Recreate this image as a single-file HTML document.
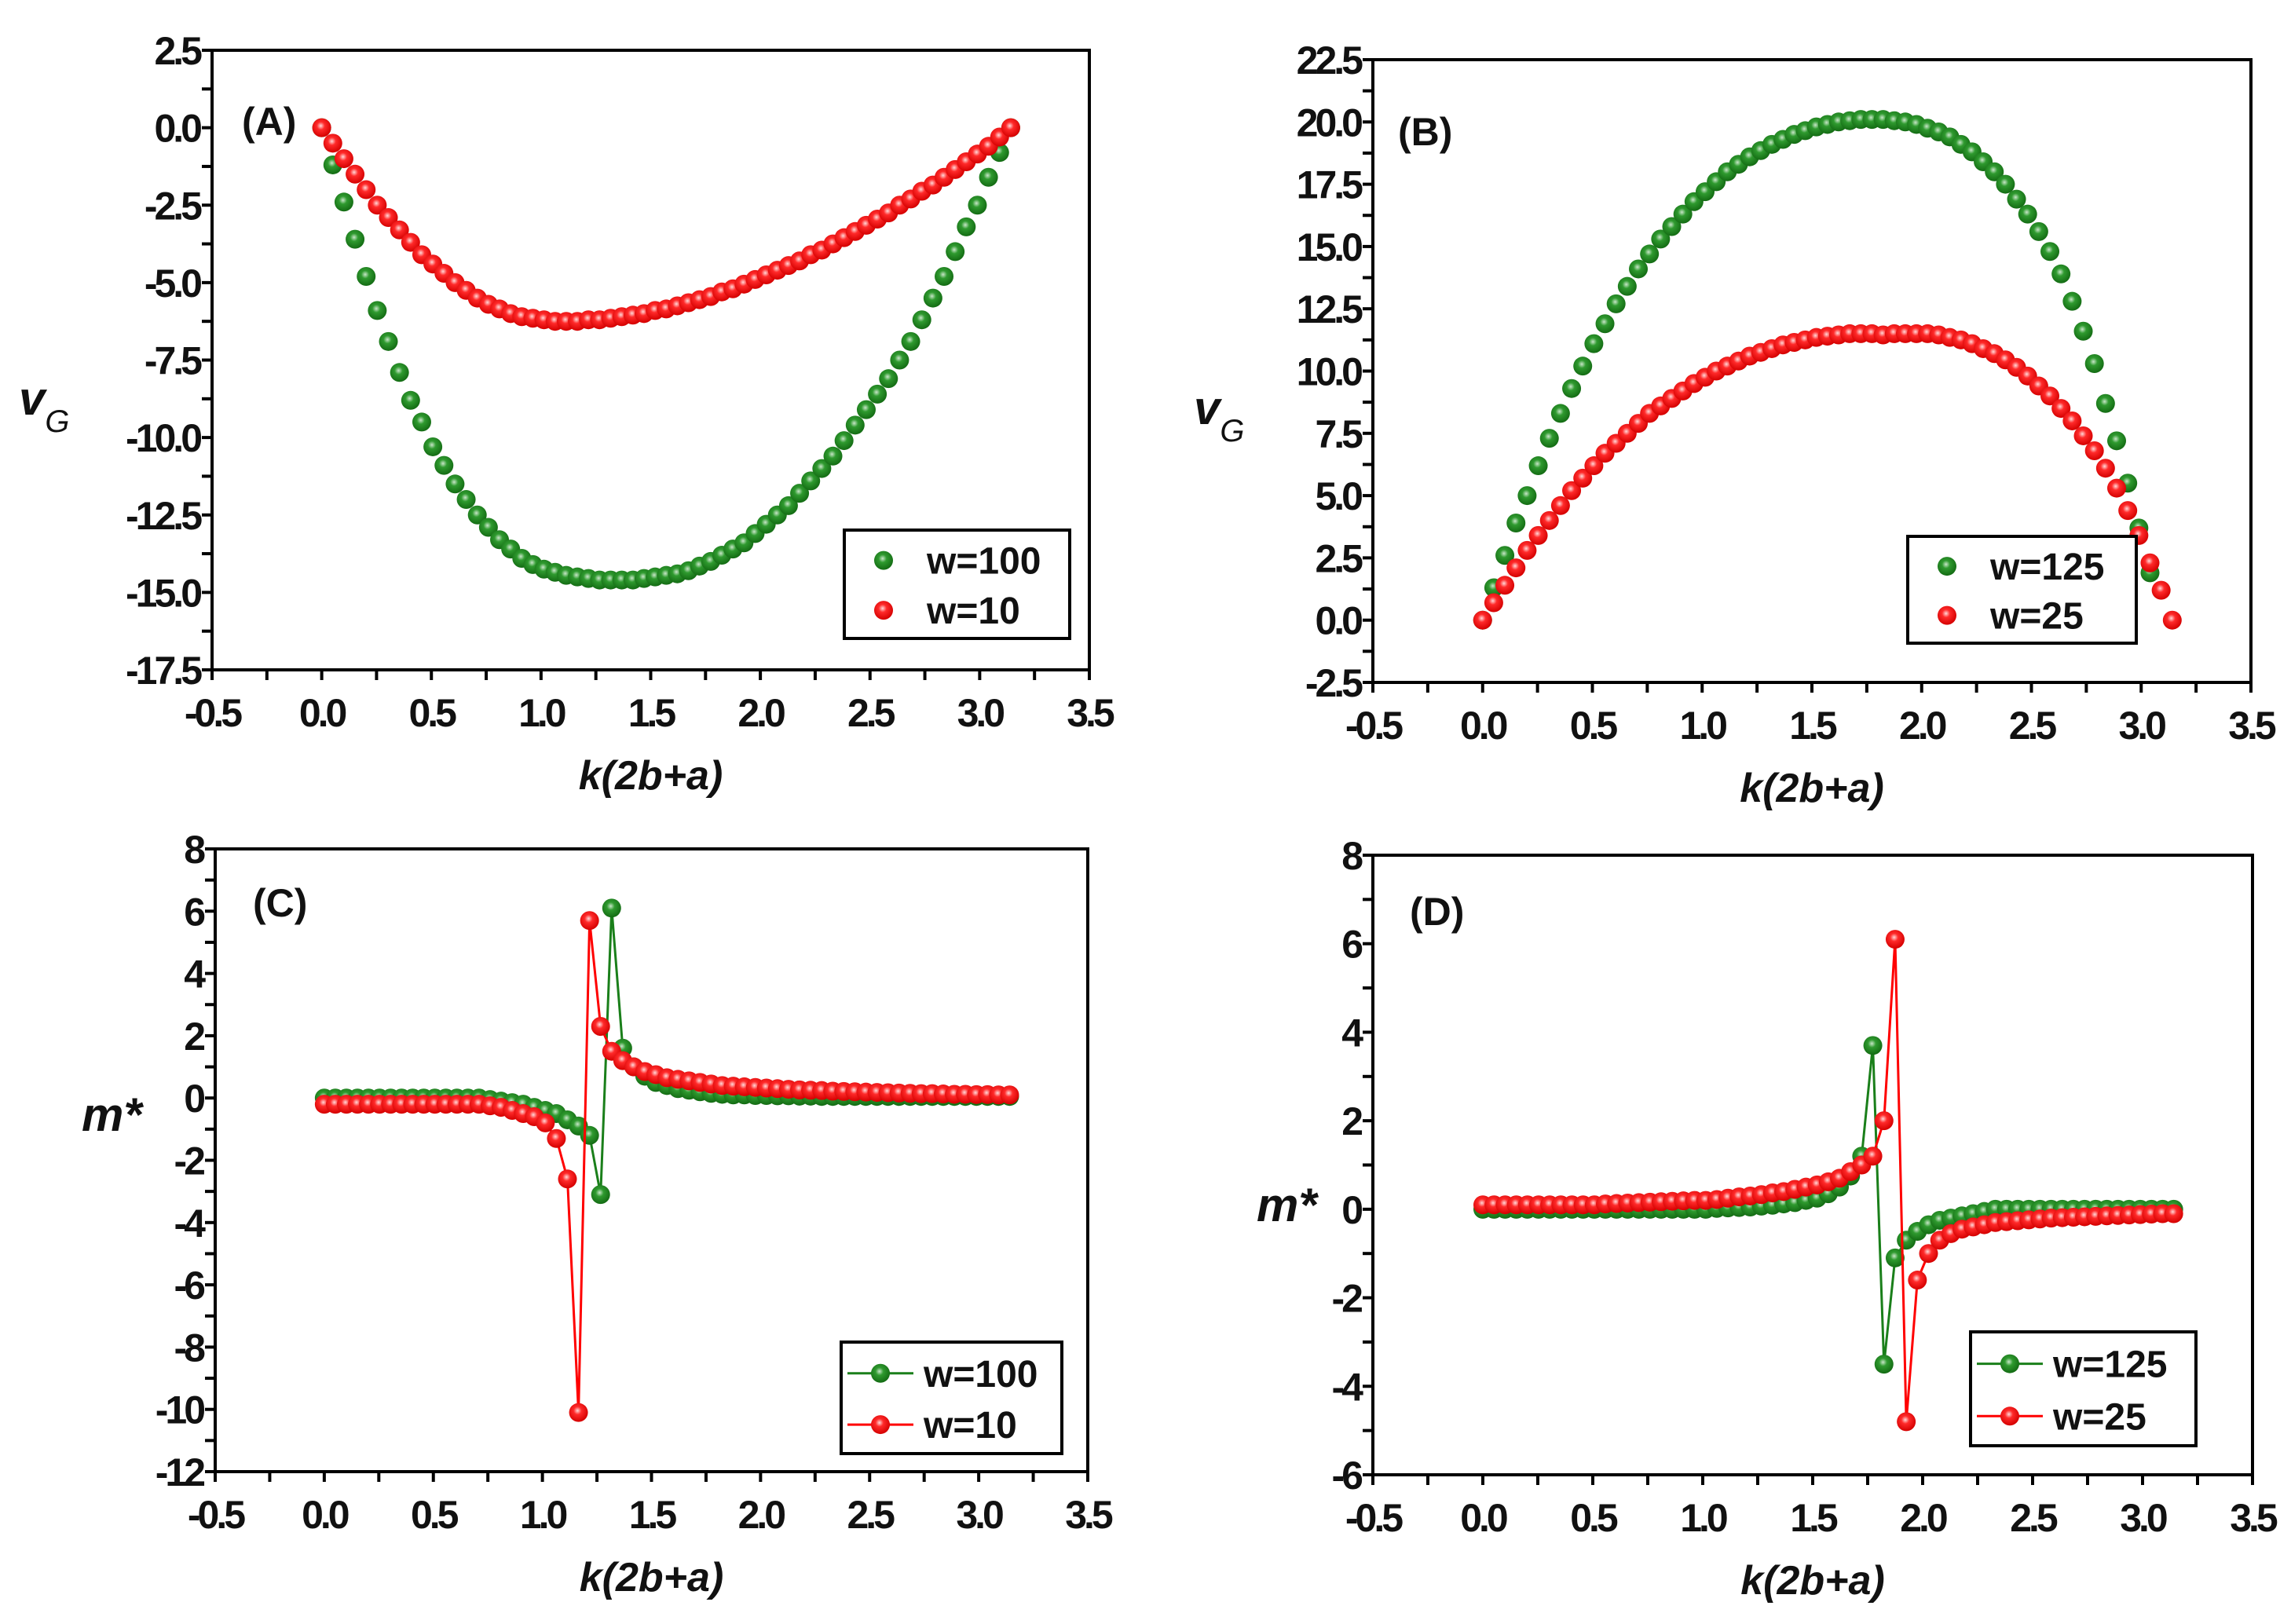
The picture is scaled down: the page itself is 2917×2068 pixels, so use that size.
<!DOCTYPE html>
<html><head><meta charset="utf-8"><style>
html,body{margin:0;padding:0;background:#fff}
svg{display:block}
text{font-family:"Liberation Sans",sans-serif;fill:#111}
</style></head><body>
<svg id="fig" width="2917" height="2068" viewBox="0 0 2917 2068">
<defs>
<radialGradient id="gG" cx="45%" cy="40%" r="60%"><stop offset="0" stop-color="#c9e6c9"/><stop offset="0.35" stop-color="#2f9a2f"/><stop offset="1" stop-color="#136b13"/></radialGradient>
<radialGradient id="gR" cx="45%" cy="40%" r="60%"><stop offset="0" stop-color="#ffd9d9"/><stop offset="0.35" stop-color="#ff2a2a"/><stop offset="1" stop-color="#d40000"/></radialGradient>
</defs>
</svg>
<script>
// shared x step (k grid spacing)
const kStep = Math.PI / 62;
// Panel A: group velocity
const aGreen = [0,-1.2,-2.4,-3.6,-4.8,-5.9,-6.9,-7.9,-8.8,-9.5,-10.3,-10.9,-11.5,-12.0,-12.5,-12.9,-13.3,-13.6,-13.9,-14.1,-14.25,-14.35,-14.45,-14.5,-14.55,-14.6,-14.6,-14.6,-14.6,-14.55,-14.5,-14.45,-14.4,-14.3,-14.15,-14.0,-13.8,-13.6,-13.4,-13.1,-12.8,-12.5,-12.2,-11.8,-11.4,-11.0,-10.6,-10.1,-9.6,-9.1,-8.6,-8.1,-7.5,-6.9,-6.2,-5.5,-4.8,-4.0,-3.2,-2.5,-1.6,-0.8,0];
const aRed = [0,-0.5,-1.0,-1.5,-2.0,-2.5,-2.9,-3.3,-3.7,-4.1,-4.4,-4.7,-5.0,-5.25,-5.5,-5.7,-5.85,-6.0,-6.1,-6.15,-6.2,-6.25,-6.25,-6.25,-6.2,-6.2,-6.15,-6.1,-6.05,-6.0,-5.9,-5.85,-5.75,-5.65,-5.55,-5.45,-5.3,-5.2,-5.05,-4.9,-4.75,-4.6,-4.45,-4.3,-4.1,-3.95,-3.75,-3.55,-3.35,-3.15,-2.95,-2.75,-2.5,-2.3,-2.05,-1.85,-1.6,-1.35,-1.1,-0.85,-0.6,-0.3,0];
// Panel B: group velocity
const bGreen = [0,1.3,2.6,3.9,5.0,6.2,7.3,8.3,9.3,10.2,11.1,11.9,12.7,13.4,14.1,14.7,15.3,15.8,16.3,16.8,17.2,17.6,18.0,18.3,18.6,18.85,19.1,19.3,19.5,19.65,19.8,19.9,20.0,20.05,20.1,20.1,20.1,20.05,20.0,19.9,19.75,19.6,19.4,19.1,18.8,18.4,18.0,17.5,16.9,16.3,15.6,14.8,13.9,12.8,11.6,10.3,8.7,7.2,5.5,3.7,1.9];
const bRed = [0,0.7,1.4,2.1,2.8,3.4,4.0,4.6,5.2,5.7,6.2,6.7,7.1,7.5,7.9,8.3,8.6,8.9,9.2,9.5,9.75,10.0,10.2,10.4,10.6,10.75,10.9,11.05,11.15,11.25,11.35,11.4,11.45,11.5,11.5,11.5,11.45,11.5,11.5,11.5,11.5,11.45,11.35,11.25,11.1,10.9,10.7,10.45,10.15,9.8,9.4,9.0,8.5,8.0,7.4,6.8,6.1,5.3,4.4,3.4,2.3,1.2,0];
// Panel C: effective mass
const cGreen = [0,0,0,0,0,0,0,0,0,0,0,0,0,0,0,-0.05,-0.1,-0.15,-0.2,-0.3,-0.4,-0.5,-0.7,-0.9,-1.2,-3.1,6.1,1.6,1.0,0.7,0.5,0.4,0.3,0.25,0.2,0.15,0.12,0.1,0.1,0.08,0.08,0.07,0.07,0.06,0.06,0.05,0.05,0.05,0.05,0.05,0.05,0.05,0.05,0.05,0.05,0.05,0.05,0.05,0.05,0.05,0.05,0.05,0.05];
const cRed = [-0.2,-0.2,-0.2,-0.2,-0.2,-0.2,-0.2,-0.2,-0.2,-0.2,-0.2,-0.2,-0.2,-0.2,-0.2,-0.25,-0.3,-0.4,-0.5,-0.6,-0.8,-1.3,-2.6,-10.1,5.7,2.3,1.5,1.2,1.0,0.85,0.75,0.65,0.6,0.55,0.5,0.45,0.4,0.38,0.36,0.34,0.32,0.3,0.28,0.26,0.25,0.24,0.22,0.21,0.2,0.19,0.18,0.17,0.16,0.15,0.14,0.14,0.13,0.12,0.12,0.11,0.11,0.1,0.1];
// Panel D: effective mass
const dGreen = [0,0,0,0,0,0,0,0,0,0,0,0,0,0,0,0,0,0,0,0,0,0.02,0.03,0.04,0.05,0.07,0.09,0.12,0.15,0.2,0.25,0.35,0.5,0.75,1.2,3.7,-3.5,-1.1,-0.7,-0.5,-0.35,-0.25,-0.2,-0.15,-0.1,-0.05,0,0,0,0,0,0,0,0,0,0,0,0,0,0,0,0,0];
const dRed = [0.1,0.1,0.1,0.1,0.1,0.1,0.1,0.1,0.1,0.1,0.1,0.12,0.13,0.14,0.15,0.16,0.17,0.18,0.19,0.2,0.2,0.22,0.25,0.28,0.3,0.33,0.37,0.4,0.45,0.5,0.55,0.62,0.7,0.85,1.0,1.2,2.0,6.1,-4.8,-1.6,-1.0,-0.7,-0.55,-0.45,-0.4,-0.35,-0.3,-0.28,-0.26,-0.24,-0.22,-0.2,-0.19,-0.18,-0.17,-0.16,-0.15,-0.14,-0.13,-0.12,-0.11,-0.1,-0.1];
// Tick labels
const xTicks = ["-0.5","0.0","0.5","1.0","1.5","2.0","2.5","3.0","3.5"];
const aYTicks = ["-17.5","-15.0","-12.5","-10.0","-7.5","-5.0","-2.5","0.0","2.5"];
const bYTicks = ["-2.5","0.0","2.5","5.0","7.5","10.0","12.5","15.0","17.5","20.0","22.5"];
const cYTicks = ["-12","-10","-8","-6","-4","-2","0","2","4","6","8"];
const dYTicks = ["-6","-4","-2","0","2","4","6","8"];

const NS = "http://www.w3.org/2000/svg";
const svg = document.getElementById('fig');
function mk(tag, attrs, parent){
  const e = document.createElementNS(NS, tag);
  for (const k in attrs) e.setAttribute(k, attrs[k]);
  (parent||svg).appendChild(e);
  return e;
}
function panel(p){
  const g = mk('g', {});
  
  
  const xmin=-0.5,xmax=3.5;
  const xs = v => p.L + (v - xmin) / (xmax - xmin) * (p.R - p.L);
  const ymin = parseFloat(p.yt[0]), ymax = parseFloat(p.yt[p.yt.length-1]);
  const ys = v => p.B - (v - ymin) / (ymax - ymin) * (p.B - p.T);
  const fr = mk('rect', {x:p.L,y:p.T,width:p.R-p.L,height:p.B-p.T,fill:'none',stroke:'#000','stroke-width':4}, g);
  
  
  for (let i=0;i<xTicks.length;i++){
    const v = parseFloat(xTicks[i]);
    mk('line',{x1:xs(v),x2:xs(v),y1:p.B,y2:p.B+13,stroke:'#000','stroke-width':4},g);
    if (i<xTicks.length-1){ const m=v+0.25; mk('line',{x1:xs(m),x2:xs(m),y1:p.B,y2:p.B+13,stroke:'#000','stroke-width':4},g); }
    const t = mk('text',{x:xs(v),y:p.B+72,'text-anchor':'middle','font-size':50,'font-weight':'bold','letter-spacing':-4},g);
    t.textContent = xTicks[i];
    
    
  }
  for (let i=0;i<p.yt.length;i++){
    const v = parseFloat(p.yt[i]);
    mk('line',{x1:p.L-13,x2:p.L,y1:ys(v),y2:ys(v),stroke:'#000','stroke-width':4},g);
    if (i<p.yt.length-1){ const m=(v+parseFloat(p.yt[i+1]))/2; mk('line',{x1:p.L-13,x2:p.L,y1:ys(m),y2:ys(m),stroke:'#000','stroke-width':4},g); }
    const t = mk('text',{x:p.L-16,y:ys(v)+18,'text-anchor':'end','font-size':50,'font-weight':'bold','letter-spacing':-4},g);
    t.textContent = p.yt[i];
    
    
  }
  p.series.forEach(s=>{
    const sg = mk('g',{},g);
    
    
    if (p.lines){
      const pts = s.data.map((v,i)=>xs(i*kStep)+','+ys(v)).join(' ');
      mk('polyline',{points:pts,fill:'none',stroke:s.col,'stroke-width':3},sg);
    }
    s.data.forEach((v,i)=>{
      const c = mk('circle',{cx:xs(i*kStep),cy:ys(v),r:12,fill:s.grad},sg);
      
      
    });
  });
  const pl = mk('text',{x:p.lab[0],y:p.lab[1],'font-size':50,'font-weight':'bold'},g);
  pl.textContent = '(' + p.id.toUpperCase() + ')';
  
  
  const xt = mk('text',{x:(p.L+p.R)/2,y:p.B+152,'text-anchor':'middle','font-size':52,'font-weight':'bold','font-style':'italic'},g);
  xt.textContent = 'k(2b+a)';
  
  
  const yt = mk('text',{x:p.ytl[0],y:p.ytl[1],'font-size':60,'font-weight':'bold','font-style':'italic'},g);
  if (p.vg){ yt.innerHTML = 'v<tspan font-size="40" dy="22" font-weight="normal">G</tspan>'; } else { yt.textContent = 'm*'; }
  
  
  const [lx,ly,lw,lh] = p.leg;
  const lg = mk('g',{},g);
  
  
  mk('rect',{x:lx,y:ly,width:lw,height:lh,fill:'#fff',stroke:'#000','stroke-width':4},lg);
  p.series.forEach((s,j)=>{
    const cy = ly + lh*(0.28 + 0.46*j);
    const e = mk('g',{},lg);
    
    
    if (p.lines) mk('line',{x1:lx+8,x2:lx+92,y1:cy,y2:cy,stroke:s.col,'stroke-width':3},e);
    mk('circle',{cx:lx+50,cy:cy,r:12,fill:s.grad},e);
    const t = mk('text',{x:lx+105,y:cy+17,'font-size':48,'font-weight':'bold'},e);
    t.textContent = s.name;
  });
}
panel({id:'a',L:270,R:1387,T:64,B:853,yt:aYTicks,vg:true,lines:false,lab:[308,172],ytl:[24,528],leg:[1075,675,287,138],
  series:[{name:'w=100',data:aGreen,col:'#1a7f1a',grad:'url(#gG)'},{name:'w=10',data:aRed,col:'#f00',grad:'url(#gR)'}]});
panel({id:'b',L:1748,R:2866,T:76,B:869,yt:bYTicks,vg:true,lines:false,lab:[1780,185],ytl:[1520,540],leg:[2429,683,291,136],
  series:[{name:'w=125',data:bGreen,col:'#1a7f1a',grad:'url(#gG)'},{name:'w=25',data:bRed,col:'#f00',grad:'url(#gR)'}]});
panel({id:'c',L:274,R:1385,T:1081,B:1874,yt:cYTicks,vg:false,lines:true,lab:[322,1167],ytl:[104,1440],leg:[1071,1709,281,142],
  series:[{name:'w=100',data:cGreen,col:'#1a7f1a',grad:'url(#gG)'},{name:'w=10',data:cRed,col:'#f00',grad:'url(#gR)'}]});
panel({id:'d',L:1748,R:2868,T:1089,B:1878,yt:dYTicks,vg:false,lines:true,lab:[1795,1178],ytl:[1600,1555],leg:[2509,1696,287,145],
  series:[{name:'w=125',data:dGreen,col:'#1a7f1a',grad:'url(#gG)'},{name:'w=25',data:dRed,col:'#f00',grad:'url(#gR)'}]});
</script>
</body></html>
